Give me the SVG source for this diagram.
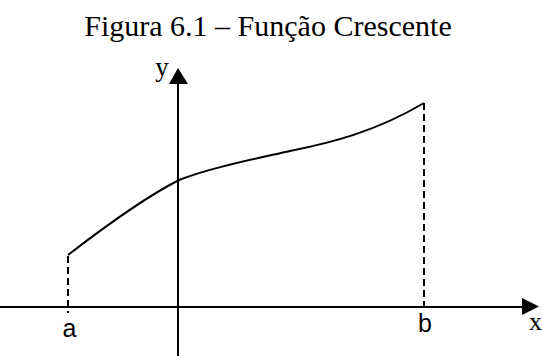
<svg xmlns="http://www.w3.org/2000/svg" width="542" height="356" viewBox="0 0 542 356">
<style>
.ax{stroke:#000;stroke-width:2;fill:none}
.cv{stroke:#000;stroke-width:2;fill:none}
.dash{stroke:#000;stroke-width:2;stroke-dasharray:7,4;fill:none}
.ser{font-family:"Liberation Serif","Times New Roman",serif;fill:#000}
.lab{font-family:"Liberation Sans",Arial,sans-serif;fill:#000}
</style>
<rect width="542" height="356" fill="#fff"/>
<text class="ser" x="268" y="36" font-size="30" text-anchor="middle">Figura 6.1 – Função Crescente</text>
<g id="connectors">
<line class="ax" x1="0" y1="307" x2="523" y2="307"/>
<polygon points="522,298 539,306.5 522,315" fill="#000"/>
<line class="ax" x1="178" y1="356" x2="178" y2="83"/>
<polygon points="169,84 178,68 188,84" fill="#000"/>
<path class="dash" d="M68,256 V313"/>
<path class="dash" d="M424,103 V309"/>
</g>
<g id="curve">
<path class="cv" d="M68,255 C90,238 140,200 179,180 C210,168 250,160 290,151 C330,143 375,132 424,103"/>
</g>
<g id="label-y"><text class="ser" x="162" y="76" font-size="27" text-anchor="middle">y</text></g>
<g id="label-x"><text class="ser" x="529" y="330" font-size="26">x</text></g>
<g id="label-a"><text class="lab" x="69.5" y="337" font-size="25" text-anchor="middle">a</text></g>
<g id="label-b"><text class="lab" x="425" y="332" font-size="25" text-anchor="middle">b</text></g>
</svg>
